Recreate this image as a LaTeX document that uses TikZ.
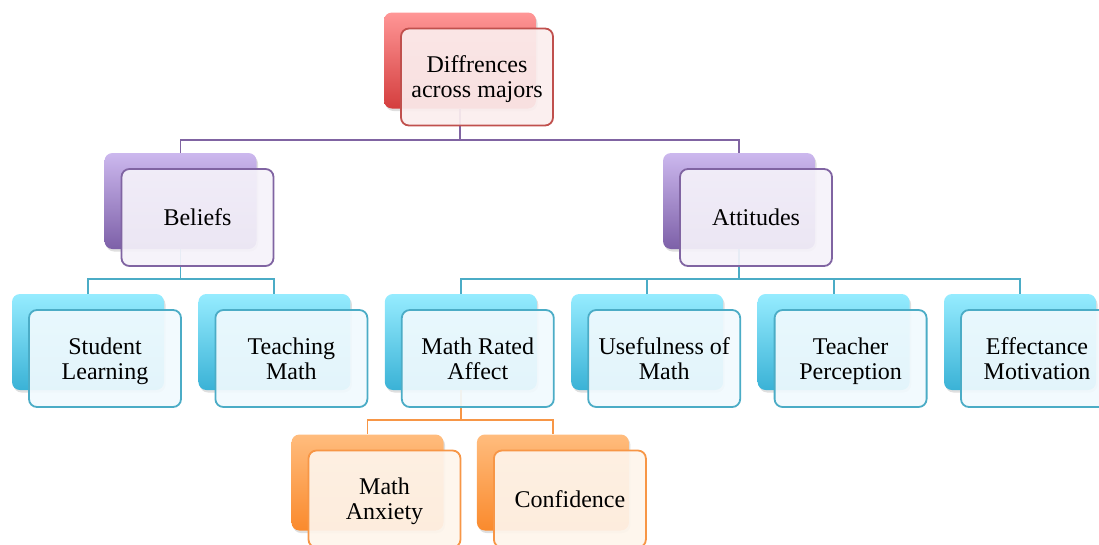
\documentclass[tikz,border=0pt]{standalone}
\usepackage{fontspec}
\setmainfont{Liberation Serif}
\usetikzlibrary{positioning, shadows}

\definecolor{redtop}{RGB}{255,150,150}
\definecolor{redbot}{RGB}{212,62,62}
\definecolor{redline}{RGB}{192,80,77}
\definecolor{redfill}{RGB}{251,238,238}
\definecolor{purtop}{RGB}{204,184,238}
\definecolor{purbot}{RGB}{125,96,168}
\definecolor{purline}{RGB}{128,100,162}
\definecolor{purfill}{RGB}{245,242,250}
\definecolor{cyantop}{RGB}{150,236,255}
\definecolor{cyanbot}{RGB}{58,178,214}
\definecolor{cyanline}{RGB}{75,172,198}
\definecolor{cyanfill}{RGB}{241,250,254}
\definecolor{orgtop}{RGB}{255,188,125}
\definecolor{orgbot}{RGB}{250,138,45}
\definecolor{orgline}{RGB}{247,150,70}
\definecolor{orgfill}{RGB}{254,245,236}

\begin{document}
\begin{tikzpicture}[
    x=1pt, y=-1pt,
    every node/.style={font=\fontsize{24}{25}\selectfont, align=center},
    back/.style={rectangle, rounded corners=8pt, minimum width=152pt, minimum height=96pt, inner sep=0pt, drop shadow={opacity=0.25, shadow xshift=1.5pt, shadow yshift=-2.5pt}},
    front/.style={rectangle, rounded corners=8pt, line width=1.8pt, minimum width=152pt, minimum height=97pt, inner sep=2pt, text depth=0pt, fill opacity=0.92, text opacity=1, xshift=17pt, yshift=-16.5pt},
    redback/.style={back, top color=redtop, bottom color=redbot},
    purback/.style={back, top color=purtop, bottom color=purbot},
    cyanback/.style={back, top color=cyantop, bottom color=cyanbot},
    orgback/.style={back, top color=orgtop, bottom color=orgbot},
    redfront/.style={front, draw=redline, fill=redfill},
    purfront/.style={front, draw=purline, fill=purfill},
    cyanfront/.style={front, draw=cyanline, fill=cyanfill},
    orgfront/.style={front, draw=orgline, fill=orgfill},
    link/.style={line width=1.9pt}
]
\useasboundingbox (0,0) rectangle (1099,544);
\clip (0,0) rectangle (1099,544);

% ================= BACK SHAPES =================
\node[redback] (topb) at (460,60.5) {};
\node[purback] (belb) at (180.5,201) {};
\node[purback] (attb) at (739,201) {};

\node[cyanback] (stdb) at (88,342) {};
\node[cyanback, right=34pt of stdb] (tchb) {};
\node[cyanback, right=34pt of tchb] (mrab) {};
\node[cyanback, right=34pt of mrab] (useb) {};
\node[cyanback, right=34pt of useb] (perb) {};
\node[cyanback, right=34pt of perb] (effb) {};

\node[orgback] (anxb) at (367.5,482.5) {};
\node[orgback, right=33pt of anxb] (confb) {};

% ================= CONNECTORS =================
\draw[link, purline] (topb.south) -- ++(0,31) -| (belb.north);
\draw[link, purline] (topb.south) -- ++(0,31) -| (attb.north);

\draw[link, cyanline] (belb.south) -- ++(0,30) -| (stdb.north);
\draw[link, cyanline] (belb.south) -- ++(0,30) -| (tchb.north);
\draw[link, cyanline] (attb.south) -- ++(0,30) -| (mrab.north);
\draw[link, cyanline] (attb.south) -- ++(0,30) -| (useb.north);
\draw[link, cyanline] (attb.south) -- ++(0,30) -| (perb.north);
\draw[link, cyanline] (attb.south) -- ++(0,30) -| (effb.north);

\draw[link, orgline] (mrab.south) -- ++(0,30) -| (anxb.north);
\draw[link, orgline] (mrab.south) -- ++(0,30) -| (confb.north);

% ================= FRONT SHAPES =================
\node[redfront] (topf) at (topb) {Diffrences\\across majors};
\node[purfront] (belf) at (belb) {Beliefs};
\node[purfront] (attf) at (attb) {Attitudes};

\node[cyanfront] (stdf) at (stdb) {Student\\Learning};
\node[cyanfront] (tchf) at (tchb) {Teaching\\Math};
\node[cyanfront] (mraf) at (mrab) {Math Rated\\Affect};
\node[cyanfront] (usef) at (useb) {Usefulness of\\Math};
\node[cyanfront] (perf) at (perb) {Teacher\\Perception};
\node[cyanfront] (efff) at (effb) {Effectance\\Motivation};

\node[orgfront] (anxf) at (anxb) {Math\\Anxiety};
\node[orgfront] (conff) at (confb) {Confidence};

\end{tikzpicture}
\end{document}
